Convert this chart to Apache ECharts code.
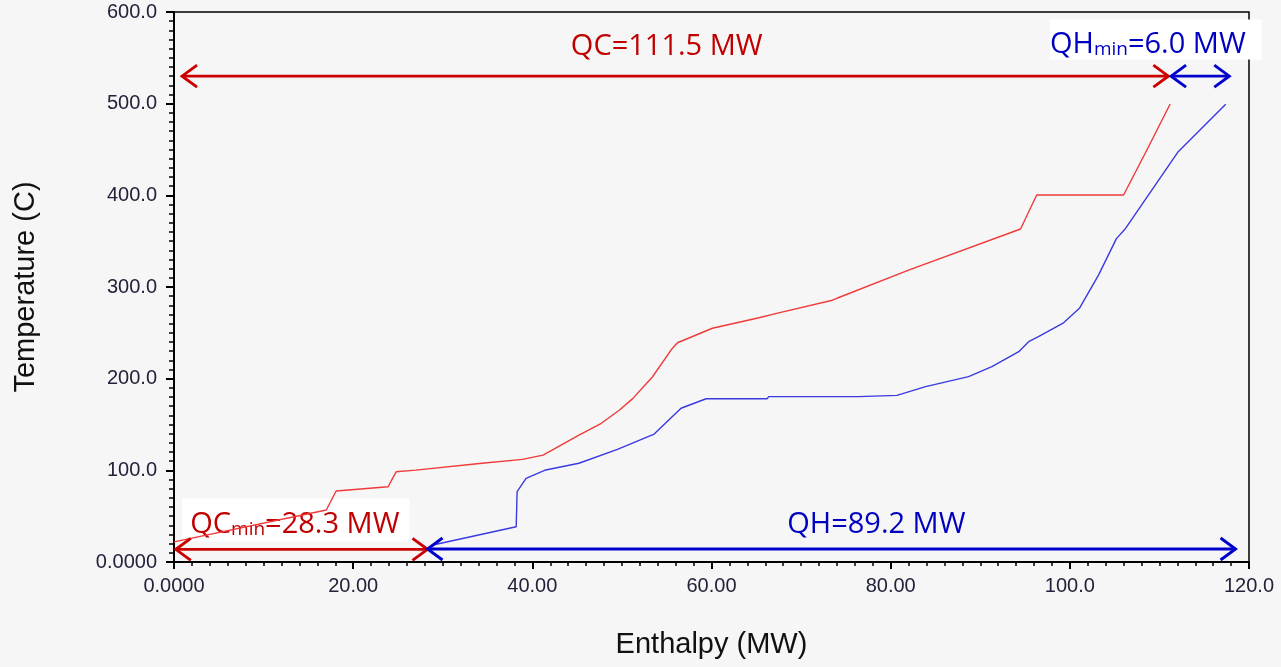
<!DOCTYPE html>
<html><head><meta charset="utf-8">
<script src="https://cdn.jsdelivr.net/npm/echarts@6/dist/echarts.min.js"></script>
<style>html,body{margin:0;padding:0;background:#f6f6f6}#c{width:1281px;height:667px}</style>
</head><body><div id="c"></div>
<script>
// Hot composite curve (red)
const hotH = [0, 17.0, 18.1, 23.9, 24.4, 24.8, 27.0, 34.1, 38.9, 41.2, 45.2, 47.7, 49.7, 51.2, 53.4, 55.6, 56.2, 60.1, 65.3, 67.5, 73.5, 74.0, 82.0, 94.5, 96.3, 106.0, 108.6, 111.2];
const hotT = [22, 56.7, 77.5, 82.1, 91.2, 98.4, 100.2, 107.5, 111.9, 116.6, 138.4, 151.3, 165.5, 178.2, 201.8, 232.7, 239.2, 255.0, 266.5, 271.8, 285.6, 287.7, 318.5, 363.3, 400.4, 400.4, 449.5, 499.6];
// Cold composite curve (blue)
const coldH = [28.9, 38.2, 38.3, 39.3, 41.5, 45.2, 49.5, 53.6, 56.6, 59.4, 66.2, 66.4, 76.4, 80.7, 83.9, 88.7, 91.3, 94.3, 95.4, 96.5, 99.3, 101.1, 103.2, 105.2, 106.2, 112.1, 117.4];
const coldT = [18.5, 38.5, 76.7, 91.3, 100.4, 107.7, 122.9, 139.6, 167.7, 178.1, 178.1, 180.4, 180.4, 181.8, 191.3, 202.2, 213.1, 229.4, 240.3, 245.8, 260.9, 277.2, 313.0, 352.8, 363.6, 447.6, 499.3];
// Tick labels
const xTickLabels = ['0.0000', '20.00', '40.00', '60.00', '80.00', '100.0', '120.0'];
const yTickLabels = ['0.0000', '100.0', '200.0', '300.0', '400.0', '500.0', '600.0'];
// Double-headed annotation arrows (enthalpy from/to, temperature level)
const arrowFrom = [0.9, 111.3, 0.2, 28.3];
const arrowTo = [111.0, 117.8, 28.3, 118.5];
const arrowLevel = [530, 530, 13.8, 14.2];
// Annotation labels
const labelMain = ['QC', 'QH', 'QC', 'QH'];
const labelSub = ['', 'min', 'min', ''];
const labelRest = ['=111.5 MW', '=6.0 MW', '=28.3 MW', '=89.2 MW'];
const labelH = [55.0, 109.6, 13.6, 78.4];
const labelT = [568, 570, 45.8, 46.5];

const RED = '#cc0000', BLUE = '#0000cc';
const arrowColors = [RED, BLUE, RED, BLUE];
const labelColors = ['#c00000', '#0000c0', '#c00000', '#0000c0'];
const labelBoxes = [null, '#ffffff', '#ffffff', null];
const labelPads = [[0, 0, 0, 0], [0, 16, 0, 0], [1, 10, 2, 8], [0, 0, 0, 0]];

const chart = echarts.init(document.getElementById('c'));

function renderArrow(params, api) {
  const i = params.dataIndex;
  const a = api.coord([api.value(0), api.value(2)]);
  const b = api.coord([api.value(1), api.value(2)]);
  const L = 15, W = 11;
  const style = { stroke: arrowColors[i], lineWidth: 2.9, fill: null };
  return {
    type: 'group', children: [
      { type: 'line', shape: { x1: a[0], y1: a[1], x2: b[0], y2: b[1] }, style: style },
      { type: 'polyline', shape: { points: [[a[0] + L, a[1] - W], [a[0], a[1]], [a[0] + L, a[1] + W]] }, style: style },
      { type: 'polyline', shape: { points: [[b[0] - L, b[1] - W], [b[0], b[1]], [b[0] - L, b[1] + W]] }, style: style }
    ]
  };
}

function renderLabel(params, api) {
  const i = params.dataIndex;
  const p = api.coord([api.value(0), api.value(1)]);
  let text = '{m|' + labelMain[i] + '}';
  if (labelSub[i]) text += '{s|' + labelSub[i] + '}';
  text += '{m|' + labelRest[i] + '}';
  const col = labelColors[i];
  const style = {
    text: text, x: 0, y: 0, align: 'center', verticalAlign: 'middle',
    rich: {
      m: { fill: col, fontSize: 29, fontFamily: 'Open Sans', lineHeight: 40, verticalAlign: 'bottom' },
      s: { fill: col, fontSize: 19, fontFamily: 'Open Sans', lineHeight: 17, verticalAlign: 'bottom' }
    },
    padding: labelPads[i]
  };
  if (labelBoxes[i]) style.backgroundColor = labelBoxes[i];
  return { type: 'text', x: p[0], y: p[1], style: style };
}

const axisFont = 'Liberation Sans';
const option = {
  animation: false,
  backgroundColor: '#f6f6f6',
  grid: { left: 174, right: 32, top: 12, bottom: 105, show: true, borderColor: '#000', borderWidth: 1.5, backgroundColor: 'transparent' },
  xAxis: {
    type: 'value', min: 0, max: 120, interval: 20,
    axisLine: { show: true, onZero: false, lineStyle: { color: '#000', width: 2 } },
    axisTick: { show: true, inside: false, length: 7, lineStyle: { color: '#000', width: 2 } },
    minorTick: { show: true, splitNumber: 10, length: 4, lineStyle: { color: '#000', width: 1.5 } },
    splitLine: { show: false },
    axisLabel: { margin: 14, fontSize: 20, fontFamily: axisFont, color: '#22223a', formatter: function (v) { return xTickLabels[Math.round(v / 20)]; } },
    name: 'Enthalpy (MW)', nameLocation: 'middle', nameGap: 68,
    nameTextStyle: { fontSize: 29, fontFamily: axisFont, color: '#111' }
  },
  yAxis: {
    type: 'value', min: 0, max: 600, interval: 100,
    axisLine: { show: true, onZero: false, lineStyle: { color: '#000', width: 2 } },
    axisTick: { show: true, inside: false, length: 8, lineStyle: { color: '#000', width: 2 } },
    minorTick: { show: true, splitNumber: 10, length: 5, lineStyle: { color: '#000', width: 1.5 } },
    splitLine: { show: false },
    axisLabel: { margin: 17, fontSize: 20, fontFamily: axisFont, color: '#22223a', formatter: function (v) { return yTickLabels[Math.round(v / 100)]; } },
    name: 'Temperature (C)', nameLocation: 'middle', nameGap: 134,
    nameTextStyle: { fontSize: 29, fontFamily: axisFont, color: '#111' }
  },
  series: [
    { type: 'custom', renderItem: renderLabel, data: labelH.map(function (h, i) { return [h, labelT[i]]; }), z: 2, silent: true },
    { type: 'line', data: hotH.map(function (h, i) { return [h, hotT[i]]; }), showSymbol: false, symbol: 'none',
      lineStyle: { color: '#f03a3a', width: 1.4 }, z: 3 },
    { type: 'line', data: coldH.map(function (h, i) { return [h, coldT[i]]; }), showSymbol: false, symbol: 'none',
      lineStyle: { color: '#3a3ae0', width: 1.4 }, z: 3 },
    { type: 'custom', renderItem: renderArrow, data: arrowFrom.map(function (f, i) { return [f, arrowTo[i], arrowLevel[i]]; }), z: 5, silent: true }
  ]
};
chart.setOption(option);
</script>
</body></html>
